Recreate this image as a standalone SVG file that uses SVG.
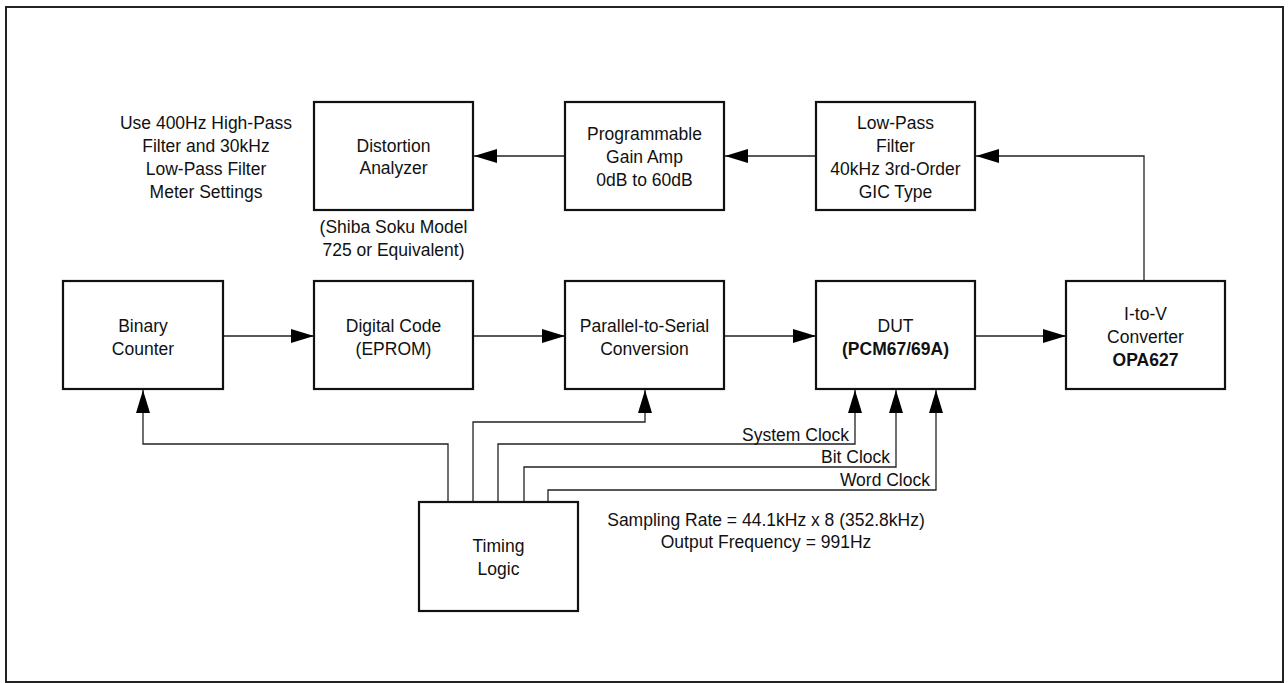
<svg xmlns="http://www.w3.org/2000/svg" width="1288" height="683" viewBox="0 0 1288 683">
<style>
.box{fill:#fff;stroke:#111;stroke-width:2.2}
.t{font-family:"Liberation Sans",Arial,sans-serif;font-size:17.5px;fill:#111;text-anchor:middle}
.b{font-weight:bold}
.e{text-anchor:end}
.c{fill:none;stroke:#222;stroke-width:1.3;marker-end:url(#ah)}
</style>
<defs>
<marker id="ah" markerUnits="userSpaceOnUse" markerWidth="24" markerHeight="14" refX="23" refY="7" orient="auto" overflow="visible">
<path d="M0,0 L23,7 L0,14 z" fill="#000"/>
</marker>
</defs>
<rect x="0" y="0" width="1288" height="683" fill="#fff"/>
<rect x="6" y="7" width="1277" height="675" fill="none" stroke="#222" stroke-width="2"/>

<g id="connectors">
<path class="c" d="M816,156 H725"/>
<path class="c" d="M565,156 H474"/>
<path class="c" d="M1144,281 V156 H976"/>
<path class="c" d="M223,336 H314"/>
<path class="c" d="M473,336 H565"/>
<path class="c" d="M724,336 H816"/>
<path class="c" d="M975,336 H1066"/>
<path class="c" d="M448,502 V444 H143 V390"/>
<path class="c" d="M473,502 V422 H645 V390"/>
<path class="c" d="M498,502 V444 H855 V390"/>
<path class="c" d="M524,502 V467 H896 V390"/>
<path class="c" d="M548,502 V490 H936 V390"/>
</g>

<g id="distortion-analyzer">
<rect class="box" x="314" y="102" width="159" height="108"/>
<text class="t" x="393.5" y="151.5">Distortion</text>
<text class="t" x="393.5" y="174">Analyzer</text>
</g>
<g id="pga">
<rect class="box" x="565" y="102" width="159" height="108"/>
<text class="t" x="644.5" y="139.5">Programmable</text>
<text class="t" x="644.5" y="162.5">Gain Amp</text>
<text class="t" x="644.5" y="185.5">0dB to 60dB</text>
</g>
<g id="lowpass">
<rect class="box" x="816" y="102" width="159" height="108"/>
<text class="t" x="895.5" y="128.5">Low-Pass</text>
<text class="t" x="895.5" y="151.5">Filter</text>
<text class="t" x="895.5" y="174.5">40kHz 3rd-Order</text>
<text class="t" x="895.5" y="197.5">GIC Type</text>
</g>
<g id="binary-counter">
<rect class="box" x="63" y="281" width="160" height="108"/>
<text class="t" x="143" y="331.5">Binary</text>
<text class="t" x="143" y="354.5">Counter</text>
</g>
<g id="digital-code">
<rect class="box" x="314" y="281" width="159" height="108"/>
<text class="t" x="393.5" y="331.5">Digital Code</text>
<text class="t" x="393.5" y="354.5">(EPROM)</text>
</g>
<g id="parallel-serial">
<rect class="box" x="565" y="281" width="159" height="108"/>
<text class="t" x="644.5" y="331.5">Parallel-to-Serial</text>
<text class="t" x="644.5" y="354.5">Conversion</text>
</g>
<g id="dut">
<rect class="box" x="816" y="281" width="159" height="108"/>
<text class="t" x="895.5" y="331.5">DUT</text>
<text class="t b" x="895.5" y="354.5">(PCM67/69A)</text>
</g>
<g id="i-to-v">
<rect class="box" x="1066" y="281" width="159" height="108"/>
<text class="t" x="1145.5" y="319.5">I-to-V</text>
<text class="t" x="1145.5" y="342.5">Converter</text>
<text class="t b" x="1145.5" y="365.5">OPA627</text>
</g>
<g id="timing-logic">
<rect class="box" x="419" y="502" width="159" height="109"/>
<text class="t" x="498.5" y="551.5">Timing</text>
<text class="t" x="498.5" y="574.5">Logic</text>
</g>

<g id="notes">
<text class="t" x="206" y="128.5">Use 400Hz High-Pass</text>
<text class="t" x="206" y="151.5">Filter and 30kHz</text>
<text class="t" x="206" y="174.5">Low-Pass Filter</text>
<text class="t" x="206" y="197.5">Meter Settings</text>
<text class="t" x="393.5" y="233">(Shiba Soku Model</text>
<text class="t" x="393.5" y="256">725 or Equivalent)</text>
<text class="t e" x="849" y="441">System Clock</text>
<text class="t e" x="890" y="463">Bit Clock</text>
<text class="t e" x="930" y="486">Word Clock</text>
<text class="t" x="766" y="525.5">Sampling Rate = 44.1kHz x 8 (352.8kHz)</text>
<text class="t" x="766" y="548">Output Frequency = 991Hz</text>
</g>
</svg>
